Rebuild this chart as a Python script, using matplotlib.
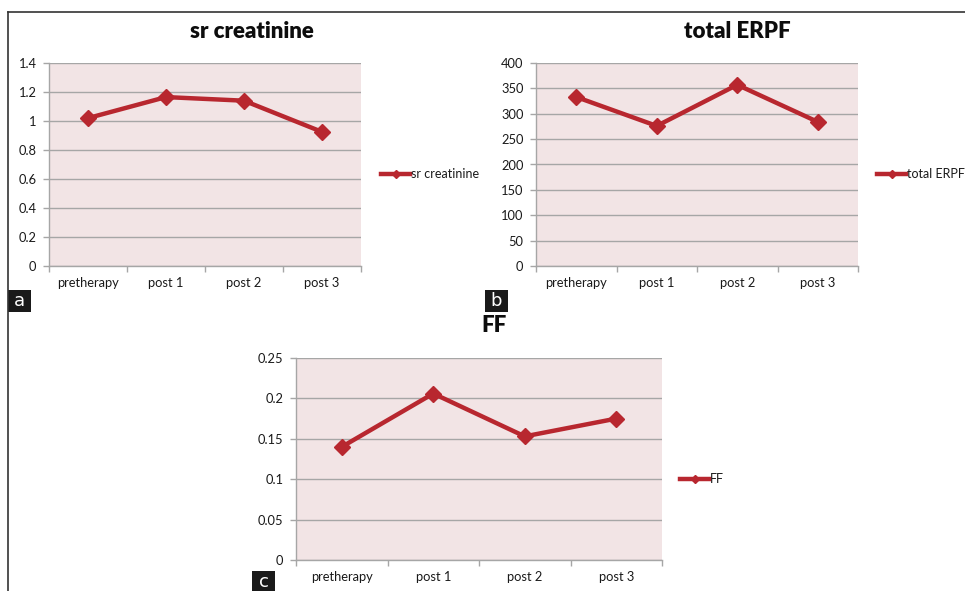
import matplotlib
matplotlib.use("Agg")
import matplotlib.pyplot as plt
from matplotlib.lines import Line2D
from matplotlib.patches import Rectangle

plt.rcParams['font.family'] = ['Lato', 'DejaVu Sans']

categories = ["pretherapy", "post 1", "post 2", "post 3"]
sr_creatinine = [1.02, 1.165, 1.14, 0.925]
total_erpf = [333, 276, 357, 284]
ff = [0.14, 0.206, 0.153, 0.175]

ticks_a = [0, 0.2, 0.4, 0.6, 0.8, 1, 1.2, 1.4]
ticks_b = [0, 50, 100, 150, 200, 250, 300, 350, 400]
ticks_c = [0, 0.05, 0.1, 0.15, 0.2, 0.25]
labels_a = ["0", "0.2", "0.4", "0.6", "0.8", "1", "1.2", "1.4"]
labels_b = [str(t) for t in ticks_b]
labels_c = ["0", "0.05", "0.1", "0.15", "0.2", "0.25"]

W, H = 965, 591
LINE = "#B8272F"
BG = "#F2E4E5"
GRID = "#A6A6A6"
TXT = "#1a1a1a"

fig = plt.figure(figsize=(W / 100, H / 100), dpi=100)


def px_rect(l, t, r, b):
    return [l / W, 1 - b / H, (r - l) / W, (b - t) / H]


def panel(rect, values, ticks, labels, title, title_xy, title_fs, legend_xy,
          tag, tag_xy):
    ax = fig.add_axes(px_rect(*rect))
    ax.set_facecolor(BG)
    x = list(range(len(categories)))
    ax.plot(x, values, color=LINE, lw=3.2, marker="D", ms=8.5,
            markeredgecolor=LINE, markerfacecolor=LINE, zorder=3, clip_on=False)
    ax.set_xlim(-0.5, len(categories) - 0.5)
    ax.set_ylim(ticks[0], ticks[-1])
    ax.set_yticks(ticks)
    ax.set_yticklabels(labels)
    ax.set_xticks(x)
    ax.set_xticklabels(categories)
    ax.set_xticks([i - 0.5 for i in range(len(categories) + 1)], minor=True)
    ax.tick_params(axis="x", which="major", length=0, pad=8, labelsize=9.3,
                   colors=TXT)
    ax.tick_params(axis="x", which="minor", length=4, color=GRID, width=1)
    ax.tick_params(axis="y", length=4, color=GRID, width=1, pad=5,
                   labelsize=9.3, colors=TXT)
    ax.grid(axis="y", color=GRID, lw=1, zorder=1)
    ax.set_axisbelow(True)
    for s in ["top", "right"]:
        ax.spines[s].set_visible(False)
    ax.spines["left"].set_color(GRID)
    ax.spines["bottom"].set_color(GRID)
    ax.spines["left"].set_linewidth(1)
    ax.spines["bottom"].set_linewidth(1)
    fig.text(title_xy[0] / W, 1 - title_xy[1] / H, title, ha="center",
             va="center", fontsize=title_fs, fontweight="heavy", color="#0d0d0d")
    lx, ly = legend_xy
    fig.add_artist(Line2D([lx / W, (lx + 29) / W], [1 - ly / H, 1 - ly / H],
                          color=LINE, lw=3.2, transform=fig.transFigure))
    fig.add_artist(Line2D([(lx + 14.5) / W], [1 - ly / H], color=LINE,
                          marker="D", ms=4, transform=fig.transFigure))
    fig.text((lx + 30) / W, 1 - ly / H, title, ha="left", va="center",
             fontsize=9, color=TXT)
    tx, ty = tag_xy
    fig.add_artist(Rectangle((tx / W, 1 - (ty + 22) / H), 23 / W, 22 / H,
                             facecolor="#1a1a1a", edgecolor="none",
                             transform=fig.transFigure))
    fig.text((tx + 11.5) / W, 1 - (ty + 11) / H, tag, ha="center",
             va="center", color="white", fontsize=13,
             family=["DejaVu Sans"])
    return ax


panel((49, 63, 361, 266), sr_creatinine, ticks_a, labels_a, "sr creatinine",
      (252, 32), 16, (381, 174), "a", (8, 290))
panel((536, 63, 858, 266), total_erpf, ticks_b, labels_b, "total ERPF",
      (737, 32), 16, (877, 174), "b", (485, 290))
panel((296, 358, 662, 560), ff, ticks_c, labels_c, "FF",
      (494, 326), 16, (680, 479), "c", (252, 571))

# outer frame (top and left only)
fig.add_artist(Line2D([8 / W, 1], [1 - 12 / H, 1 - 12 / H], color="#333333",
                      lw=1.2, transform=fig.transFigure))
fig.add_artist(Line2D([8 / W, 8 / W], [0, 1 - 12 / H], color="#333333",
                      lw=1.2, transform=fig.transFigure))

fig.savefig("out.png", dpi=100)
